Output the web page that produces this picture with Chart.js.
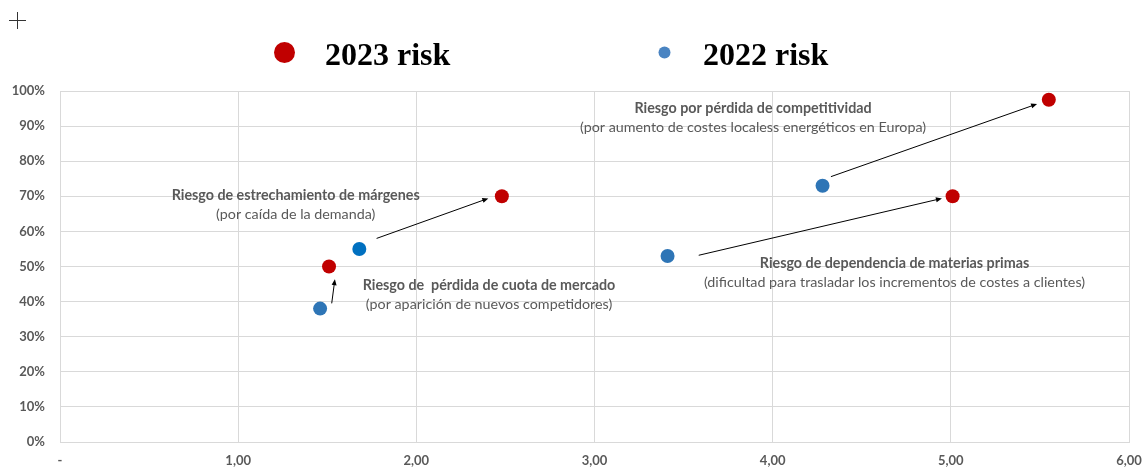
<!DOCTYPE html>
<html>
<head>
<meta charset="utf-8">
<script src="https://cdn.jsdelivr.net/npm/chart.js@4/dist/chart.umd.min.js"></script>
<style>
  html, body { margin: 0; padding: 0; background: #ffffff; }
  #wrap { width: 1146px; height: 468px; position: relative; }
</style>
</head>
<body>
<div id="wrap"><canvas id="riskChart"></canvas></div>
<script>
// Risk values (x = impact score, y = probability %)
var risk2023X = [1.51, 2.48, 5.01, 5.55];
var risk2023Y = [50, 70, 70, 97.5];
var risk2022X = [1.46, 1.68, 3.41, 4.28];
var risk2022Y = [38, 55, 53, 73];
var risk2022Colors = ['#2E75B6', '#0070C0', '#2E75B6', '#2E75B6'];

// Arrows between the two years (data units)
var arrowFromX = [1.525, 1.777, 3.585, 4.327];
var arrowFromY = [39.5, 58.0, 53.2, 75.6];
var arrowToX = [1.543, 2.404, 4.950, 5.484];
var arrowToY = [46.4, 69.4, 69.4, 96.3];

// Text labels, anchored in data units
var labelTitles = [
    'Riesgo de estrechamiento de márgenes',
    'Riesgo de  pérdida de cuota de mercado',
    'Riesgo por pérdida de competitividad',
    'Riesgo de dependencia de materias primas'
];
var labelNotes = [
    '(por caída de la demanda)',
    '(por aparición de nuevos competidores)',
    '(por aumento de costes localess energéticos en Europa)',
    '(dificultad para trasladar los incrementos de costes a clientes)'
];
var labelX = [1.323, 2.408, 3.890, 4.684];
var labelY = [70.3, 44.7, 95.1, 51.0];

// Axis ticks
var xTicks = [0, 1, 2, 3, 4, 5, 6];
var yTicks = [0, 10, 20, 30, 40, 50, 60, 70, 80, 90, 100];

function toPoints(xs, ys) {
    return xs.map(function(x, i) { return { x: x, y: ys[i] }; });
}

var textGray = '#595959';
var gridGray = '#d9d9d9';

// Arrows, labels and the header legend
var annotatePlugin = {
    id: 'annotate',
    afterDatasetsDraw: function(chart) {
        var ctx = chart.ctx;
        var xs = chart.scales.x, ys = chart.scales.y;
        ctx.save();

        // arrows
        ctx.strokeStyle = '#000000';
        ctx.fillStyle = '#000000';
        ctx.lineWidth = 1;
        for (var i = 0; i < arrowFromX.length; i++) {
            var x1 = xs.getPixelForValue(arrowFromX[i]);
            var y1 = ys.getPixelForValue(arrowFromY[i]);
            var x2 = xs.getPixelForValue(arrowToX[i]);
            var y2 = ys.getPixelForValue(arrowToY[i]);
            var ang = Math.atan2(y2 - y1, x2 - x1);
            var head = 6;
            ctx.beginPath();
            ctx.moveTo(x1, y1);
            ctx.lineTo(x2 - Math.cos(ang) * head * 0.8, y2 - Math.sin(ang) * head * 0.8);
            ctx.stroke();
            ctx.beginPath();
            ctx.moveTo(x2, y2);
            ctx.lineTo(x2 - head * Math.cos(ang) + 2.5 * Math.sin(ang), y2 - head * Math.sin(ang) - 2.5 * Math.cos(ang));
            ctx.lineTo(x2 - head * Math.cos(ang) - 2.5 * Math.sin(ang), y2 - head * Math.sin(ang) + 2.5 * Math.cos(ang));
            ctx.closePath();
            ctx.fill();
        }

        // labels
        ctx.fillStyle = textGray;
        ctx.textAlign = 'center';
        ctx.textBaseline = 'middle';
        for (var j = 0; j < labelTitles.length; j++) {
            var lx = xs.getPixelForValue(labelX[j]);
            var ly = ys.getPixelForValue(labelY[j]);
            ctx.font = 'bold 14.3px Lato';
            ctx.fillText(labelTitles[j], lx, ly);
            ctx.font = '14.3px Lato';
            ctx.fillText(labelNotes[j], lx, ly + 19);
        }

        // header legend
        var legendCx = [284.5, 664.5];
        var legendR = [10.5, 6];
        var legendTx = [325, 703];
        var sets = [chart.data.datasets[0], chart.data.datasets[1]];
        for (var k = 0; k < sets.length; k++) {
            ctx.beginPath();
            ctx.fillStyle = sets[k].legendColor;
            ctx.arc(legendCx[k], 52.5, legendR[k], 0, Math.PI * 2);
            ctx.fill();
            ctx.fillStyle = '#000000';
            ctx.textAlign = 'left';
            ctx.textBaseline = 'alphabetic';
            ctx.font = 'bold 32px "Liberation Serif"';
            ctx.fillText(sets[k].label, legendTx[k], 65);
        }

        // crosshair mark top-left
        ctx.strokeStyle = '#333333';
        ctx.beginPath();
        ctx.moveTo(9, 20.5); ctx.lineTo(26, 20.5);
        ctx.moveTo(17.5, 12); ctx.lineTo(17.5, 29);
        ctx.stroke();

        ctx.restore();
    }
};

var ctx = document.getElementById('riskChart').getContext('2d');
new Chart(ctx, {
    type: 'scatter',
    data: {
        datasets: [{
            label: '2023 risk',
            data: toPoints(risk2023X, risk2023Y),
            backgroundColor: '#C00000',
            borderColor: '#C00000',
            legendColor: '#C00000',
            pointRadius: 7,
            pointBorderWidth: 0
        }, {
            label: '2022 risk',
            data: toPoints(risk2022X, risk2022Y),
            backgroundColor: risk2022Colors,
            borderColor: risk2022Colors,
            legendColor: '#4A84C2',
            pointRadius: 7,
            pointBorderWidth: 0
        }]
    },
    options: {
        responsive: true,
        maintainAspectRatio: false,
        animation: false,
        layout: {
            padding: { top: 91, right: 17, left: 0, bottom: 0 }
        },
        plugins: {
            legend: { display: false },
            tooltip: { enabled: false }
        },
        scales: {
            x: {
                type: 'linear',
                min: 0,
                max: 6,
                afterBuildTicks: function(scale) {
                    scale.ticks = xTicks.map(function(v) { return { value: v }; });
                },
                afterFit: function(scale) {
                    scale.height = 26;
                    scale.paddingLeft = 0;
                    scale.paddingRight = 0;
                },
                grid: { color: gridGray, drawTicks: false },
                border: { color: gridGray },
                ticks: {
                    padding: 11,
                    color: textGray,
                    font: { family: 'Lato', weight: 'bold', size: 13 },
                    callback: function(v) {
                        return v === 0 ? '-' : v.toFixed(2).replace('.', ',');
                    }
                }
            },
            y: {
                type: 'linear',
                min: 0,
                max: 100,
                afterBuildTicks: function(scale) {
                    scale.ticks = yTicks.map(function(v) { return { value: v }; });
                },
                afterFit: function(scale) { scale.width = 60; },
                grid: { color: gridGray, drawTicks: false },
                border: { color: gridGray },
                ticks: {
                    padding: 15,
                    color: textGray,
                    font: { family: 'Lato', weight: 'bold', size: 13 },
                    callback: function(v) { return v + '%'; }
                }
            }
        }
    },
    plugins: [annotatePlugin]
});
</script>
</body>
</html>
